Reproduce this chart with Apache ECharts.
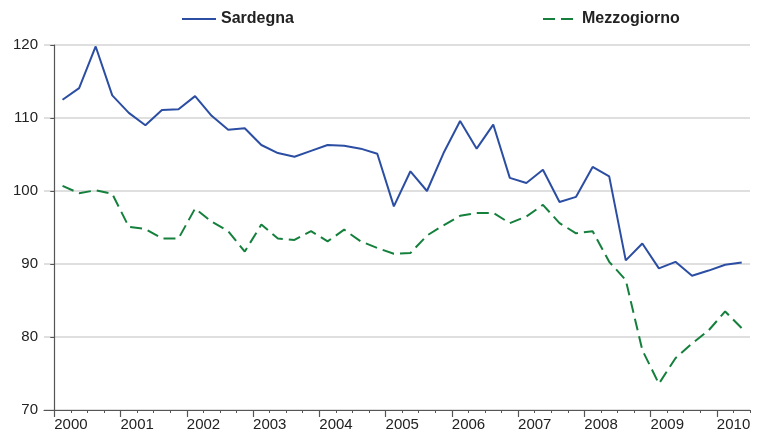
<!DOCTYPE html>
<html>
<head>
<meta charset="utf-8">
<style>
  html, body { margin: 0; padding: 0; background: #fff; }
  #chart { width: 763px; height: 432px; }
</style>
<script src="https://cdn.jsdelivr.net/npm/echarts@6/dist/echarts.min.js"></script>
</head>
<body>
<div id="chart"></div>
<script>
// Quarterly index, 2000 Q1 – 2010 Q2
const years = ['2000', '2001', '2002', '2003', '2004', '2005', '2006', '2007', '2008', '2009', '2010'];

const sardegna = [
  112.5, 114.1, 119.8, 113.1, 110.7, 109.0, 111.1, 111.2, 113.0, 110.3,
  108.4, 108.6, 106.3, 105.2, 104.7, 105.5, 106.3, 106.2, 105.8, 105.1,
  97.9, 102.7, 100.0, 105.2, 109.6, 105.8, 109.1, 101.8, 101.1, 102.9,
  98.5, 99.2, 103.3, 102.0, 90.5, 92.8, 89.4, 90.3, 88.4, 89.1, 89.9, 90.2
];

const mezzogiorno = [
  100.7, 99.7, 100.1, 99.6, 95.1, 94.8, 93.5, 93.5, 97.6, 95.8,
  94.5, 91.7, 95.4, 93.5, 93.3, 94.5, 93.1, 94.7, 93.1, 92.2,
  91.4, 91.5, 93.9, 95.3, 96.6, 97.0, 97.0, 95.6, 96.5, 98.1,
  95.6, 94.2, 94.5, 90.3, 87.8, 78.2, 73.6, 77.1, 79.1, 80.9, 83.5, 81.2
];

const yTicks = [70, 80, 90, 100, 110, 120];

// each quarter sits in the middle of its slot on the time axis
const toPoints = arr => arr.map((v, i) => [i + 0.5, v]);

const nQ = sardegna.length;
const yearStarts = years.map((_, k) => k * 4);
const quarterTicks = [];
for (let q = 1; q <= nQ; q++) if (q % 4 !== 0) quarterTicks.push(q);

const font = "'Liberation Sans', Arial, sans-serif";
const axisColor = '#555';
const textColor = '#222';

const chart = echarts.init(document.getElementById('chart'), null, { renderer: 'canvas' });

const legendBase = {
  top: 6,
  itemWidth: 34,
  itemHeight: 14,
  itemGap: 6,
  itemStyle: { opacity: 0 },
  textStyle: { fontFamily: font, fontWeight: 'bold', fontSize: 16, color: textColor }
};

chart.setOption({
  animation: false,
  backgroundColor: '#fff',
  textStyle: { fontFamily: font },
  legend: [
    Object.assign({ data: ['Sardegna'], left: 176 }, legendBase),
    Object.assign({ data: ['Mezzogiorno'], left: 537 }, legendBase)
  ],
  grid: { left: 44, right: 13, top: 45, bottom: 20, containLabel: false },
  xAxis: [
    {
      type: 'value',
      position: 'bottom',
      min: -0.62,
      max: nQ,
      splitLine: { show: false },
      axisLine: { show: true, lineStyle: { color: axisColor, width: 1.2 } },
      axisTick: { show: true, customValues: yearStarts, length: 7, lineStyle: { color: axisColor, width: 1.2 } },
      axisLabel: {
        customValues: yearStarts,
        formatter: v => years[Math.round(v / 4)],
        align: 'left',
        margin: 7,
        fontSize: 15,
        color: textColor,
        fontFamily: font
      }
    },
    {
      type: 'value',
      position: 'bottom',
      min: -0.62,
      max: nQ,
      splitLine: { show: false },
      axisLine: { show: false },
      axisTick: { show: true, customValues: quarterTicks, length: 3, lineStyle: { color: axisColor, width: 1 } },
      axisLabel: { show: false }
    }
  ],
  yAxis: {
    type: 'value',
    min: yTicks[0],
    max: yTicks[yTicks.length - 1],
    interval: 10,
    axisLine: { show: true, lineStyle: { color: axisColor, width: 1.2 } },
    axisTick: { show: true, length: 4, lineStyle: { color: axisColor } },
    axisLabel: { fontSize: 15, color: textColor, margin: 6, fontFamily: font },
    splitLine: { show: true, lineStyle: { color: '#d4d4d4', width: 1.5 } }
  },
  series: [
    {
      name: 'Sardegna',
      type: 'line',
      xAxisIndex: 0,
      data: toPoints(sardegna),
      symbol: 'none',
      color: '#2b4ea3',
      lineStyle: { width: 2, color: '#2b4ea3' }
    },
    {
      name: 'Mezzogiorno',
      type: 'line',
      xAxisIndex: 0,
      data: toPoints(mezzogiorno),
      symbol: 'none',
      color: '#14803c',
      lineStyle: { width: 2, color: '#14803c', type: [12, 6] }
    }
  ]
});
</script>
</body>
</html>
